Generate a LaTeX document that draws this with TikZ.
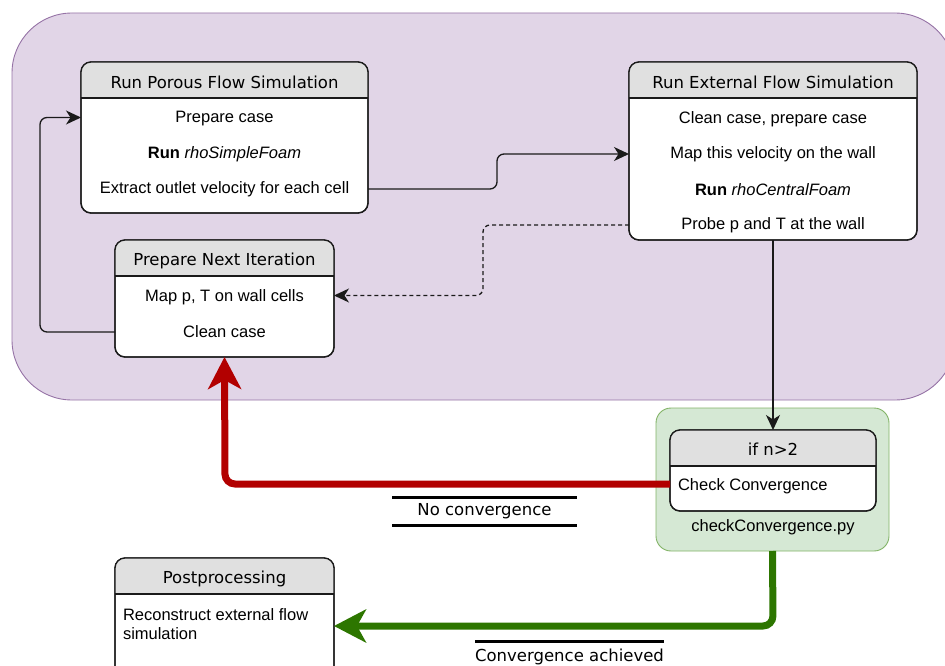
\documentclass[tikz,border=0pt]{standalone}
\usepackage{fontspec}
\setmainfont{Liberation Sans}
\newfontfamily\vfont{DejaVu Sans}
\usetikzlibrary{arrows.meta,calc}
\definecolor{purplefill}{HTML}{E1D5E7}
\definecolor{purpledraw}{HTML}{9673A6}
\definecolor{greenfill}{HTML}{D5E8D4}
\definecolor{greendraw}{HTML}{82B366}
\definecolor{hdrgray}{HTML}{E0E0E0}
\definecolor{redarrow}{HTML}{B20000}
\definecolor{greenarrow}{HTML}{2D7600}
\definecolor{ink}{HTML}{1A1A1A}
\newcommand\hdrbox[2]{%
  \begin{scope}
    \clip[rounded corners=10pt] (#1.north west) rectangle (#1.south east);
    \fill[hdrgray] (#1.north west) rectangle ([yshift=-#2pt]#1.north east);
  \end{scope}
  \draw[ink,line width=1.3pt] ([yshift=-#2pt]#1.north west) -- ([yshift=-#2pt]#1.north east);
  \draw[ink,line width=1.3pt,rounded corners=10pt] (#1.north west) rectangle (#1.south east);%
}
\begin{document}
\begin{tikzpicture}[x=1pt,y=-1pt,
  every node/.style={outer sep=0pt,inner sep=0pt},
  box/.style={draw=ink,line width=1.3pt,fill=white,rounded corners=10pt,anchor=north west},
  txt/.style={font=\fontsize{16.5}{19}\selectfont,text=black,yshift=-2pt},
  ttl/.style={font=\vfont\fontsize{16.5}{19}\selectfont,text=black,yshift=-1.5pt},
  conn/.style={draw=ink,line width=1.3pt,-{Stealth[length=15pt,width=14pt,inset=4.5pt]}},
  thick arrow/.style={line width=7pt,-{Stealth[length=32pt,width=33pt,inset=9pt]}},
  labelbox/.style={ttl,minimum width=185pt}
]
\useasboundingbox (0,0) rectangle (945,666);

% containers
\node[draw=purpledraw,fill=purplefill,line width=0.9pt,rounded corners=60pt,anchor=north west,
      minimum width=943pt,minimum height=387pt] (outer) at (12,13) {};
\node[draw=greendraw,fill=greenfill,line width=0.9pt,rounded corners=15pt,anchor=north west,
      minimum width=233pt,minimum height=143pt] (grn) at (656,408) {};

% boxes
\node[box,minimum width=287pt,minimum height=151pt] (porous) at (81,62) {};
\hdrbox{porous}{36}
\node[box,minimum width=288pt,minimum height=178pt] (external) at (629,62) {};
\hdrbox{external}{36}
\node[box,minimum width=219pt,minimum height=117pt] (nextit) at (115,240) {};
\hdrbox{nextit}{36}
\node[box,minimum width=219pt,minimum height=130pt] (post) at (115,558) {};
\hdrbox{post}{36}
\node[box,minimum width=206pt,minimum height=81pt] (check) at (670,430) {};
\hdrbox{check}{36}

% texts
\node[ttl] (porousT) at (224.5,81) {Run Porous Flow Simulation};
\node[txt] (p1) at (224.5,117) {Prepare case};
\node[txt] (p2) at (224.5,152) {\textbf{Run} \textit{rhoSimpleFoam}};
\node[txt] (p3) at (224.5,187) {Extract outlet velocity for each cell};

\node[ttl] (externalT) at (773,81) {Run External Flow Simulation};
\node[txt] (e1) at (773,117) {Clean case, prepare case};
\node[txt] (e2) at (773,152) {Map this velocity on the wall};
\node[txt] (e3) at (773,188) {\textbf{Run} \textit{rhoCentralFoam}};
\node[txt] (e4) at (773,223) {Probe p and T at the wall};

\node[ttl] (nextitT) at (224.5,259) {Prepare Next Iteration};
\node[txt] (n1) at (224.5,295) {Map p, T on wall cells};
\node[txt] (n2) at (224.5,330) {Clean case};

\node[ttl] (postT) at (224.5,577) {Postprocessing};
\node[txt,anchor=west,align=left] (postX) at (123,622.5) {Reconstruct external flow\\simulation};

\node[ttl] (checkT) at (773,448) {if n>2};
\node[txt,anchor=west] (c1) at (678,484) {Check Convergence};
\node[txt] (cpy) at (773,525) {checkConvergence.py};

% labels
\node[labelbox,minimum height=28pt] (noconv) at (484.5,510) {No convergence};
\draw[black,line width=2.5pt] (noconv.north west) -- (noconv.north east);
\draw[black,line width=2.5pt] (noconv.south west) -- (noconv.south east);
\node[labelbox,minimum height=30pt] (conv) at (569.5,655) {Convergence achieved};
\draw[black,line width=2.5pt] (conv.north west) -- (conv.north east);

% connectors
\coordinate (m1) at (497,170);
\coordinate (m2) at (483,260);
\coordinate (m3) at (40,220);
\coordinate (r1) at (225,484);
\coordinate (g1) at (773,626);
\draw[conn,rounded corners=7pt] (porous.east |- p3) -| (m1) |- (external.west |- e2);
\draw[conn,dashed,dash pattern=on 4pt off 3pt,rounded corners=7pt] (external.west |- e4) -| (m2) |- ([yshift=1.5pt]nextit.east |- n1);
\draw[conn,rounded corners=7pt] (nextit.west |- n2) -| (m3) |- ([yshift=1.5pt]porous.west |- p1);
\draw[conn] (external.south) -- (check.north);
\draw[thick arrow,draw=redarrow,rounded corners=10pt] (check.west |- r1) -- (r1) -- (nextit.south);
\draw[thick arrow,draw=greenarrow,rounded corners=10pt] (grn.south) -- (g1) -- (post.east |- g1);
\end{tikzpicture}
\end{document}
